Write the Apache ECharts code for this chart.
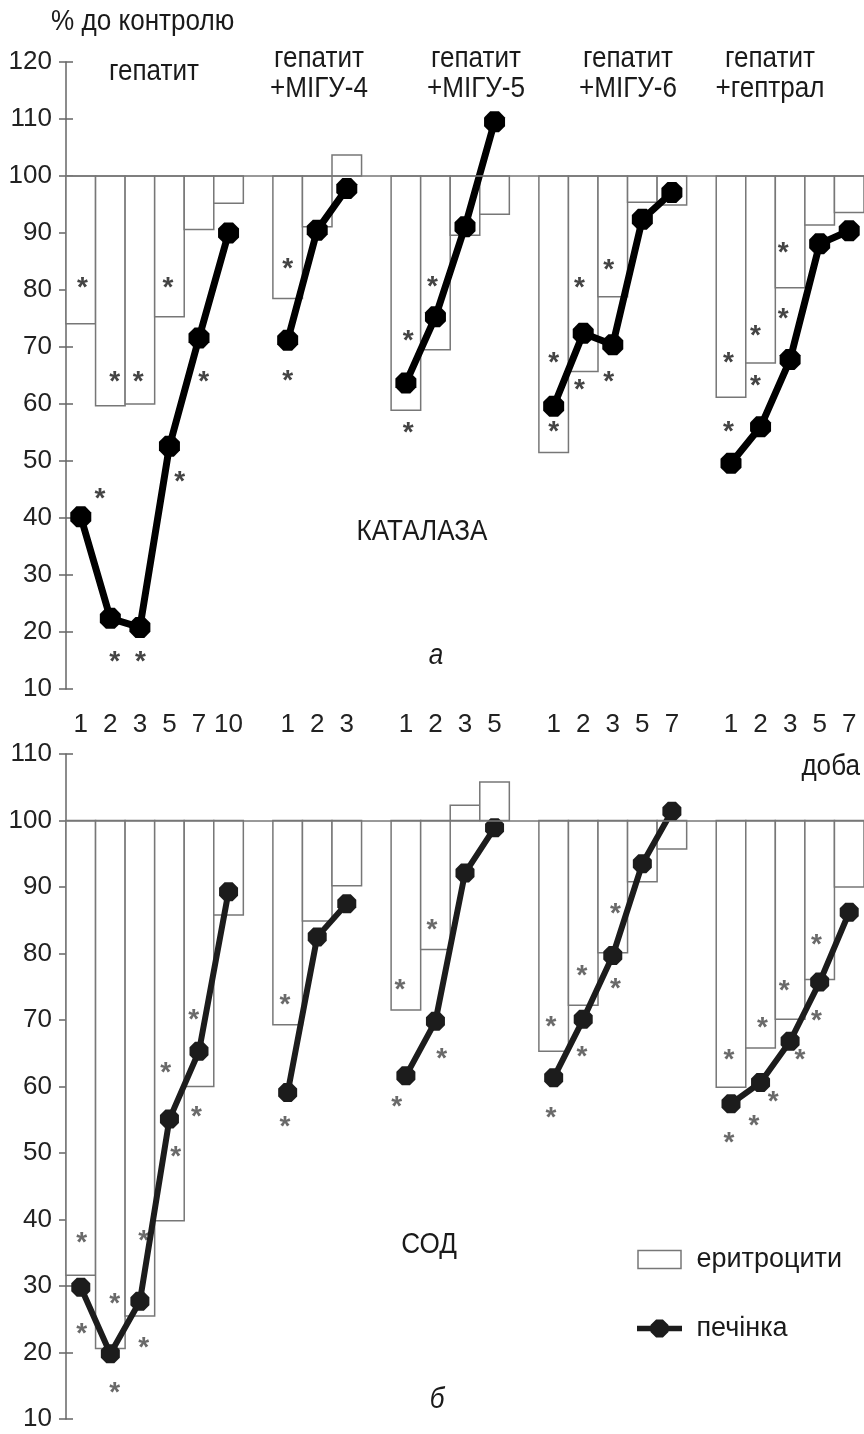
<!DOCTYPE html>
<html>
<head>
<meta charset="utf-8">
<script src="https://cdn.jsdelivr.net/npm/echarts/dist/echarts.min.js"></script>
<style>
  html, body { margin: 0; padding: 0; background: #fff; }
  #chart { width: 864px; height: 1434px; }
</style>
</head>
<body>
<div id="chart"></div>
<script>
// ---- data (27 slots; null = gap between groups) ----
const dayLabels = ['1','2','3','5','7','10','', '1','2','3','', '1','2','3','5','', '1','2','3','5','7','', '1','2','3','5','7'];

const groupTitles = [['гепатит'], ['гепатит','+МІГУ-4'], ['гепатит','+МІГУ-5'], ['гепатит','+МІГУ-6'], ['гепатит','+гептрал']];

// КАТАЛАЗА (a)
const catErythro = [74.1,59.7,60.0,75.3,90.6,95.2,null, 78.5,91.1,103.7,null, 58.9,69.5,89.6,93.3,null, 51.5,65.7,78.8,95.4,94.9,null, 61.2,67.2,80.4,91.4,93.6];
const catLiver   = [40.2,22.4,20.8,52.6,71.6,90.0,null, 71.2,90.5,97.8,null, 63.7,75.3,91.1,109.5,null, 59.6,72.4,70.4,92.4,97.1,null, 49.6,56.0,67.8,88.1,90.4];
const catStars = [
  [0.56,81.4],[1.15,44.3],[1.65,64.9],[2.44,64.9],[3.45,81.4],[3.85,47.3],[4.66,64.9],[1.65,15.7],[2.52,15.7],
  [7.5,84.7],[7.5,65.1],
  [12.40,81.5],[11.58,72.1],[11.58,56.0],
  [16.50,68.2],[16.50,56.1],[17.37,81.3],[17.37,63.5],[18.36,84.5],[18.36,64.9],
  [22.41,68.2],[22.41,56.1],[23.33,72.9],[23.33,64.1],[24.27,87.5],[24.27,76.0]
];

// СОД (б)
const sodErythro = [31.6,20.6,25.5,39.8,60.0,85.8,null, 69.3,84.9,90.2,null, 71.5,80.6,102.3,105.8,null, 65.3,72.2,80.1,90.8,95.7,null, 59.9,65.8,70.1,76.1,90.0];
const sodLiver   = [29.8,19.8,27.7,55.1,65.3,89.3,null, 59.1,82.5,87.5,null, 61.6,69.8,92.1,98.9,null, 61.3,70.1,79.7,93.5,101.4,null, 57.4,60.6,66.8,75.7,86.2];
const sodStars = [
  [0.53,37.4],[0.53,23.7],[1.65,28.2],[1.65,14.8],[2.63,37.7],[2.63,21.5],[3.37,62.9],[3.71,50.3],[4.32,70.8],[4.41,56.2],
  [7.41,73.1],[7.41,54.8],
  [11.30,75.3],[12.38,84.4],[12.71,65.0],[11.19,57.8],
  [16.41,69.8],[16.41,56.1],[17.46,77.5],[17.46,65.3],[18.59,86.8],[18.59,75.5],
  [22.43,64.8],[22.43,52.3],[23.56,69.7],[23.28,54.9],[24.30,75.2],[23.93,58.5],[25.39,82.2],[25.39,70.7],[24.83,64.8]
];

const catTicks = { min: 10, max: 120, interval: 10 };
const sodTicks = { min: 10, max: 110, interval: 10 };

// ---- helpers ----
const FONT = '"Liberation Sans", Arial, sans-serif';
const SLOTS = dayLabels.length;
const OCT = 'path://M29,0 L71,0 L100,29 L100,71 L71,100 L29,100 L0,71 L0,29 Z';
const LEGEND_LINE = 'path://M0,6 L50,6 L50,12 L0,12 Z M21.2,-1 L28.8,-1 L35,5.2 L35,12.8 L28.8,19 L21.2,19 L15,12.8 L15,5.2 Z';
const LEGEND_BOX = 'path://M0,0 L43,0 L43,18 L0,18 Z';

function barData(arr) {
  const out = [];
  arr.forEach((v, i) => { if (v != null) out.push([i + 0.5, v]); });
  return out;
}
function lineData(arr) {
  return arr.map((v, i) => [i + 0.5, v == null ? '-' : v]);
}
function renderBar(params, api) {
  const x = api.value(0), v = api.value(1);
  const a = api.coord([x - 0.5, 100]);
  const b = api.coord([x + 0.5, v]);
  return {
    type: 'rect',
    shape: { x: a[0], y: Math.min(a[1], b[1]), width: b[0] - a[0], height: Math.abs(b[1] - a[1]) },
    style: { fill: '#fff', stroke: '#777', lineWidth: 1.5 }
  };
}
function renderStar(color) {
  return function (params, api) {
    const p = api.coord([api.value(0), api.value(1)]);
    return {
      type: 'text', x: p[0], y: p[1] + 6,
      style: { text: '*', fill: color, font: 'bold 28px ' + FONT,
               align: 'center', verticalAlign: 'middle', textAlign: 'center', textVerticalAlign: 'middle' }
    };
  };
}
function yAxes(grid, t) {
  const line = { show: true, lineStyle: { color: '#666', width: 1.5 } };
  return [
    { type: 'value', gridIndex: grid, min: t.min, max: t.max, interval: t.interval, position: 'left',
      axisLine: line, axisTick: { show: true, length: 7, lineStyle: { color: '#666', width: 1.5 } },
      axisLabel: { fontSize: 26, fontFamily: FONT, color: '#222', margin: 14 }, splitLine: { show: false } },
    { type: 'value', gridIndex: grid, min: t.min, max: t.max, interval: t.interval, position: 'left',
      axisLine: { show: false }, axisTick: { show: true, inside: true, length: 7, lineStyle: { color: '#666', width: 1.5 } },
      axisLabel: { show: false }, splitLine: { show: false } }
  ];
}
function panelSeries(xi, yi, ery, liv, stars, lineColor, starColor, lw, ss) {
  return [
    { type: 'custom', name: 'еритроцити', xAxisIndex: xi, yAxisIndex: yi, renderItem: renderBar,
      data: barData(ery), encode: { x: 0, y: 1 }, z: 1, silent: true,
      itemStyle: { color: '#fff', borderColor: '#777', borderWidth: 1.5 },
      markLine: { silent: true, symbol: 'none', label: { show: false }, animation: false,
                  lineStyle: { color: '#777', width: 1.5, type: 'solid' }, data: [{ yAxis: 100 }] } },
    { type: 'custom', xAxisIndex: xi, yAxisIndex: yi, renderItem: renderStar(starColor),
      data: stars, encode: { x: 0, y: 1 }, z: 2, silent: true },
    { type: 'line', name: 'печінка', xAxisIndex: xi, yAxisIndex: yi, data: lineData(liv),
      symbol: OCT, symbolSize: ss, showAllSymbol: true, connectNulls: false, z: 3,
      lineStyle: { color: lineColor, width: lw, join: 'round' },
      itemStyle: { color: lineColor } }
  ];
}
function txt(t, x, y, align, italic) {
  return { type: 'text', x: x, y: y, scaleX: 0.87, z: 10, silent: true,
    style: { text: t, x: 0, y: 0, fill: '#1a1a1a', font: (italic ? 'italic ' : '') + '30px ' + FONT,
             align: align, verticalAlign: 'middle', textAlign: align, textVerticalAlign: 'middle' } };
}

const titleX = [154, 319, 476, 628, 770];
const graphics = [txt('% до контролю', 51, 22, 'left')];
groupTitles.forEach((lines, g) => {
  if (lines.length === 1) graphics.push(txt(lines[0], titleX[g], 72, 'center'));
  else { graphics.push(txt(lines[0], titleX[g], 59, 'center')); graphics.push(txt(lines[1], titleX[g], 89, 'center')); }
});
graphics.push(txt('КАТАЛАЗА', 422, 532, 'center'));
graphics.push(txt('а', 436, 656, 'center', true));
graphics.push(txt('доба', 860, 767, 'right'));
graphics.push(txt('СОД', 429, 1245, 'center'));
graphics.push(txt('б', 437, 1400, 'center', true));

const chart = echarts.init(document.getElementById('chart'), null, { renderer: 'canvas' });
chart.setOption({
  animation: false,
  backgroundColor: '#fff',
  grid: [
    { left: 66, top: 62, width: 800, height: 627 },
    { left: 66, top: 754, width: 800, height: 665 }
  ],
  xAxis: [
    { type: 'value', gridIndex: 0, min: 0, max: SLOTS, show: false },
    { type: 'value', gridIndex: 1, min: 0, max: SLOTS, show: false },
    { type: 'category', gridIndex: 0, data: dayLabels, position: 'bottom',
      axisLine: { show: false }, axisTick: { show: false }, splitLine: { show: false },
      axisLabel: { interval: 0, fontSize: 26, lineHeight: 26, fontFamily: FONT, color: '#222', margin: 23 } }
  ],
  yAxis: yAxes(0, catTicks).concat(yAxes(1, sodTicks)),
  legend: {
    orient: 'vertical', left: 632, top: 1241, itemWidth: 50, itemHeight: 18, itemGap: 42,
    selectedMode: false, symbolKeepAspect: true,
    textStyle: { fontSize: 27, lineHeight: 18, fontFamily: FONT, color: '#1a1a1a', padding: [0, 0, 0, 7] },
    data: [
      { name: 'еритроцити', icon: LEGEND_BOX, itemStyle: { color: '#fff', borderColor: '#777', borderWidth: 1.5 } },
      { name: 'печінка', icon: LEGEND_LINE, itemStyle: { color: '#1c1c1c', borderWidth: 0 } }
    ]
  },
  graphic: graphics,
  series: panelSeries(0, 0, catErythro, catLiver, catStars, '#000', '#444', 7, 21)
    .concat(panelSeries(1, 2, sodErythro, sodLiver, sodStars, '#1c1c1c', '#6a6a6a', 6, 19))
});
</script>
</body>
</html>
